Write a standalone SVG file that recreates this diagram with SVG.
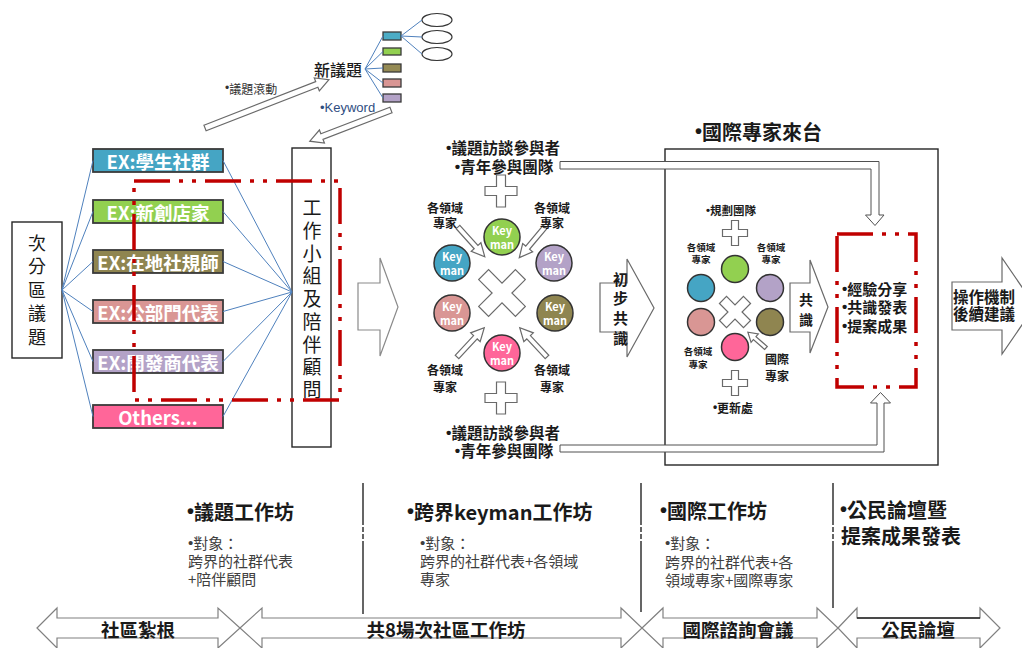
<svg xmlns="http://www.w3.org/2000/svg" width="1022" height="648" viewBox="0 0 1022 648">
<defs>
<style>
text{font-family:"Noto Sans CJK TC","Liberation Sans",sans-serif;fill:#1a1a1a;dominant-baseline:central}
.v{writing-mode:vertical-rl;text-orientation:upright}
.bu{font-family:"Liberation Sans",sans-serif}
.b{font-weight:bold}
.m{text-anchor:middle}
.box{stroke:#3a3a3a;stroke-width:1.8}
.wt{fill:#fff;font-weight:bold;font-size:18.5px;text-anchor:middle}
.bl{stroke:#4f81bd;stroke-width:1;fill:none}
.ho{fill:#fff;stroke:#6a6a6a;stroke-width:1.2}
.red{fill:none;stroke:#c00000;stroke-width:3.5;stroke-dasharray:36 9 4 9 4 9}
.frame{fill:#fff;stroke:#262626;stroke-width:1.4}
.cir{stroke:#333;stroke-width:1.5}
.km{fill:#fff;font-weight:bold;font-size:11px;text-anchor:middle}
.sub{fill:#404040;font-size:15px}
.h{font-weight:bold;font-size:20px}
.div{stroke:#333;stroke-width:1.5;stroke-dasharray:42 2 5 2 5 2 300}
.lab{font-weight:bold;font-size:12px;text-anchor:middle}
.labs{font-weight:bold;font-size:9.5px;text-anchor:middle}
</style>
<path id="plusM" d="M-4.5,-16H4.5V-4.5H16V4.5H4.5V16H-4.5V4.5H-16V-4.5H-4.5Z"/>
<path id="xM" d="M-7,-26H7V-7H26V7H7V26H-7V7H-26V-7H-7Z" transform="rotate(45)"/>
<path id="plusS" d="M-3.5,-12.5H3.5V-3.5H12.5V3.5H3.5V12.5H-3.5V3.5H-12.5V-3.5H-3.5Z"/>
<path id="xS" d="M-5,-17H5V-5H17V5H5V17H-5V5H-17V-5H-5Z" transform="rotate(45)"/>
<path id="sar" d="M0,-2.5H27V-6.5L40,0L27,6.5V2.5H0Z"/>
<path id="sar2" d="M0,-2H15V-5.5L24,0L15,5.5V2H0Z"/>
</defs>

<g id="new-topic">
<text x="338" y="69" class="m" style="font-size:16px;font-weight:500">新議題</text>
</g>
<g id="topic-colors">
<rect x="383" y="32" width="18" height="8" fill="#4bacc6" class="box" style="stroke-width:1.3"/>
<rect x="383" y="48" width="18" height="7" fill="#92d050" class="box" style="stroke-width:1.3"/>
<rect x="383" y="64" width="18" height="8" fill="#948a54" class="box" style="stroke-width:1.3"/>
<rect x="383" y="79" width="18" height="8" fill="#d99694" class="box" style="stroke-width:1.3"/>
<rect x="383" y="94" width="18" height="8" fill="#b3a2c7" class="box" style="stroke-width:1.3"/>
</g>
<g id="topic-ellipses">
<ellipse cx="437" cy="20" rx="15" ry="6.5" fill="#fff" stroke="#333" stroke-width="1.2"/>
<ellipse cx="437" cy="37" rx="15" ry="6.5" fill="#fff" stroke="#333" stroke-width="1.2"/>
<ellipse cx="437" cy="54" rx="15" ry="6.5" fill="#fff" stroke="#333" stroke-width="1.2"/>
</g>
<g id="topic-labels">
<text x="225" y="88" style="font-size:12px;fill:#333"><tspan class="bu">•</tspan>議題滾動</text>
<text x="320" y="107" style="font-size:13px;fill:#2e4d7f" class="bu">•Keyword</text>
</g>

<g id="sub-district">
<rect x="12" y="222" width="50" height="136" class="frame"/>
<text x="37" y="234" class="v" style="font-size:18px;letter-spacing:5.5px">次分區議題</text>
</g>
<g id="ex1"><rect x="93" y="149" width="130" height="23" fill="#45a5c4" class="box"/><text x="158" y="160.5" class="wt">EX:學生社群</text></g>
<g id="ex2"><rect x="93" y="200" width="130" height="23" fill="#92d050" class="box"/><text x="158" y="211.5" class="wt">EX:新創店家</text></g>
<g id="ex3"><rect x="93" y="250" width="130" height="23" fill="#8f8550" class="box"/><text x="158" y="261.5" class="wt">EX:在地社規師</text></g>
<g id="ex4"><rect x="93" y="300" width="130" height="23" fill="#d99694" class="box"/><text x="158" y="311.5" class="wt">EX:公部門代表</text></g>
<g id="ex5"><rect x="93" y="350" width="130" height="23" fill="#b3a2c7" class="box"/><text x="158" y="361.5" class="wt">EX:開發商代表</text></g>
<g id="others"><rect x="93" y="405" width="130" height="23" fill="#ff6699" class="box"/><text x="158" y="416.5" class="wt">Others...</text></g>

<g id="workgroup">
<rect x="292" y="148" width="39" height="299" class="frame"/>
<text x="312" y="198.5" class="v" style="font-size:19px;letter-spacing:3.75px">工作小組及陪伴顧問</text>
</g>

<g id="connectors">
<line x1="365" y1="69" x2="383" y2="36" class="bl"/>
<line x1="365" y1="69" x2="383" y2="51.5" class="bl"/>
<line x1="365" y1="69" x2="383" y2="68" class="bl"/>
<line x1="365" y1="69" x2="383" y2="83" class="bl"/>
<line x1="365" y1="69" x2="383" y2="98" class="bl"/>
<line x1="401" y1="36" x2="422" y2="20" class="bl"/>
<line x1="401" y1="36" x2="422" y2="37" class="bl"/>
<line x1="401" y1="36" x2="422" y2="54" class="bl"/>
<path class="ho" d="M0,-3H120V-7L133,0L120,7V3H0Z" transform="translate(205,128) rotate(-21.3)"/>
<path class="ho" d="M0,-3H74V-7L87,0L74,7V3H0Z" transform="translate(391,110) rotate(159)"/>
<line x1="62" y1="290" x2="93" y2="160.5" class="bl"/>
<line x1="62" y1="290" x2="93" y2="211.5" class="bl"/>
<line x1="62" y1="290" x2="93" y2="261.5" class="bl"/>
<line x1="62" y1="290" x2="93" y2="311.5" class="bl"/>
<line x1="62" y1="290" x2="93" y2="361.5" class="bl"/>
<line x1="62" y1="290" x2="93" y2="416.5" class="bl"/>
<line x1="223" y1="160.5" x2="292" y2="292" class="bl"/>
<line x1="223" y1="211.5" x2="292" y2="292" class="bl"/>
<line x1="223" y1="261.5" x2="292" y2="292" class="bl"/>
<line x1="223" y1="311.5" x2="292" y2="292" class="bl"/>
<line x1="223" y1="361.5" x2="292" y2="292" class="bl"/>
<line x1="223" y1="416.5" x2="292" y2="292" class="bl"/>
<polygon class="ho" points="358,283 380,283 380,258 398,307 380,356 380,330 358,330" style="stroke:#8a8a8a"/>
<polygon class="ho" points="600,283 627,283 627,259 654,308 627,357 627,332 600,332"/>
<polygon class="ho" points="952,282 1002,282 1002,258 1035,306 1002,354 1002,330 952,330"/>
</g>

<rect x="134" y="181" width="206" height="219" class="red"/>

<g id="keyman-workshop">
<text class="m b" style="font-size:15.5px"><tspan x="503" y="147"><tspan class="bu">•</tspan>議題訪談參與者</tspan><tspan x="504" y="166"><tspan class="bu">•</tspan>青年參與團隊</tspan></text>
<text class="m b" style="font-size:15.5px"><tspan x="503" y="432"><tspan class="bu">•</tspan>議題訪談參與者</tspan><tspan x="504" y="450"><tspan class="bu">•</tspan>青年參與團隊</tspan></text>
<use href="#plusM" class="ho" transform="translate(501,191)"/>
<use href="#plusM" class="ho" transform="translate(501,398)"/>
<use href="#xM" class="ho" transform="translate(502,293)"/>
<use href="#sar" class="ho" transform="translate(458,227) rotate(48)"/>
<use href="#sar" class="ho" transform="translate(545,227) rotate(130)"/>
<use href="#sar" class="ho" transform="translate(457,357) rotate(-47)"/>
<use href="#sar" class="ho" transform="translate(547,357) rotate(-133)"/>
<text class="lab"><tspan x="445" y="207">各領域</tspan><tspan x="445" y="222">專家</tspan></text>
<text class="lab"><tspan x="552" y="207">各領域</tspan><tspan x="552" y="222">專家</tspan></text>
<text class="lab"><tspan x="445" y="369">各領域</tspan><tspan x="445" y="386">專家</tspan></text>
<text class="lab"><tspan x="552" y="369">各領域</tspan><tspan x="552" y="386">專家</tspan></text>
<circle cx="502" cy="237" r="18" fill="#92d050" class="cir"/><text class="km"><tspan x="502" y="230">Key</tspan><tspan x="502" y="244">man</tspan></text>
<circle cx="452" cy="263" r="18" fill="#45a5c4" class="cir"/><text class="km"><tspan x="452" y="256">Key</tspan><tspan x="452" y="270">man</tspan></text>
<circle cx="554" cy="263" r="18" fill="#b3a2c7" class="cir"/><text class="km"><tspan x="554" y="256">Key</tspan><tspan x="554" y="270">man</tspan></text>
<circle cx="452" cy="313" r="18" fill="#d99694" class="cir"/><text class="km"><tspan x="452" y="306">Key</tspan><tspan x="452" y="320">man</tspan></text>
<circle cx="555" cy="313" r="18" fill="#8f8550" class="cir"/><text class="km"><tspan x="555" y="306">Key</tspan><tspan x="555" y="320">man</tspan></text>
<circle cx="502" cy="353" r="18" fill="#ff6699" class="cir"/><text class="km"><tspan x="502" y="346">Key</tspan><tspan x="502" y="360">man</tspan></text>
<text x="620.5" y="271.5" class="v b" style="font-size:15px;letter-spacing:4.8px">初步共識</text>
</g>

<g id="international">
<text x="695" y="131" class="b" style="font-size:20px"><tspan class="bu">•</tspan>國際專家來台</text>
<rect x="665" y="149" width="273" height="316" fill="none" stroke="#262626" stroke-width="1.4"/>
<text x="731" y="210" class="lab" style="font-size:11.5px"><tspan class="bu">•</tspan>規劃團隊</text>
<use href="#plusS" class="ho" transform="translate(735,233)"/>
<use href="#plusS" class="ho" transform="translate(735,383)"/>
<use href="#xS" class="ho" transform="translate(735,312)"/>
<use href="#sar2" class="ho" transform="translate(766,348) rotate(-139)"/>
<text class="labs"><tspan x="701" y="247">各領域</tspan><tspan x="701" y="259">專家</tspan></text>
<text class="labs"><tspan x="771" y="247">各領域</tspan><tspan x="771" y="259">專家</tspan></text>
<text class="labs"><tspan x="698" y="351">各領域</tspan><tspan x="698" y="364">專家</tspan></text>
<text class="lab"><tspan x="777" y="358">國際</tspan><tspan x="777" y="375">專家</tspan></text>
<circle cx="735" cy="269" r="13.5" fill="#92d050" class="cir"/>
<circle cx="701" cy="288" r="13.5" fill="#45a5c4" class="cir"/>
<circle cx="770" cy="288" r="13.5" fill="#b3a2c7" class="cir"/>
<circle cx="701" cy="322" r="13.5" fill="#d99694" class="cir"/>
<circle cx="770" cy="322" r="13.5" fill="#8f8550" class="cir"/>
<circle cx="735" cy="347" r="13.5" fill="#ff6699" class="cir"/>
<text x="733" y="407" class="lab" style="font-size:12px"><tspan class="bu">•</tspan>更新處</text>
<polygon class="ho" points="790,283 810,283 810,260 828,307 810,353 810,332 790,332"/>
<text x="806" y="293" class="v b" style="font-size:14px;letter-spacing:6px">共識</text>
</g>
<g id="results">
<rect x="837" y="234" width="79" height="153" class="red"/>
<text class="b" style="font-size:15px"><tspan x="842" y="288"><tspan class="bu">•</tspan>經驗分享</tspan><tspan x="842" y="306"><tspan class="bu">•</tspan>共識發表</tspan><tspan x="842" y="325"><tspan class="bu">•</tspan>提案成果</tspan></text>
</g>
<g id="follow-up">
<text class="b" style="font-size:15.5px"><tspan x="953" y="296">操作機制</tspan><tspan x="953" y="313">後續建議</tspan></text>
</g>

<g id="feedback-connectors">
<polygon class="ho" style="stroke:#505050;stroke-width:1" points="560,161.5 879,161.5 879,215 884,215 875,225.5 865.5,215 871,215 871,169 560,169"/>
<polygon class="ho" style="stroke:#505050;stroke-width:1" points="560,452 884,452 884,403 890.5,403 880.5,392.5 870.5,403 877,403 877,445 560,445"/>
</g>

<g id="dividers">
<line x1="363" y1="483" x2="363" y2="614" class="div"/>
<line x1="641" y1="483" x2="641" y2="612" class="div"/>
<line x1="833" y1="483" x2="833" y2="608" class="div"/>
</g>
<g id="phase1">
<text x="187" y="511" class="h"><tspan class="bu">•</tspan>議題工作坊</text>
<text class="sub"><tspan x="188" y="542"><tspan class="bu">•</tspan>對象：</tspan><tspan x="188" y="560">跨界的社群代表</tspan><tspan x="188" y="578">+陪伴顧問</tspan></text>
</g>
<g id="phase2">
<text x="407" y="511" class="h"><tspan class="bu">•</tspan>跨界keyman工作坊</text>
<text class="sub"><tspan x="420" y="542"><tspan class="bu">•</tspan>對象：</tspan><tspan x="420" y="560">跨界的社群代表+各領域</tspan><tspan x="420" y="578">專家</tspan></text>
</g>
<g id="phase3">
<text x="660" y="510" class="h"><tspan class="bu">•</tspan>國際工作坊</text>
<text class="sub"><tspan x="665" y="542"><tspan class="bu">•</tspan>對象：</tspan><tspan x="665" y="561">跨界的社群代表+各</tspan><tspan x="665" y="579">領域專家+國際專家</tspan></text>
</g>
<g id="phase4">
<text class="h"><tspan x="840" y="509"><tspan class="bu">•</tspan>公民論壇暨</tspan><tspan x="841" y="535">提案成果發表</tspan></text>
</g>

<g id="timeline">
<polygon class="ho" style="stroke:#808080" points="37,628 57,608 57,618 218,618 218,608 240,628 218,648 218,638 57,638 57,648"/>
<polygon class="ho" style="stroke:#808080" points="240,628 262,608 262,618 621,618 621,608 642,628 621,648 621,638 262,638 262,648"/>
<polygon class="ho" style="stroke:#808080" points="642,628 663,608 663,618 817,618 817,608 838,628 817,648 817,638 663,638 663,648"/>
<polygon class="ho" style="stroke:#808080" points="838,628 857,608 857,618 980,618 980,608 1000,628 980,648 980,638 857,638 857,648"/>
<line x1="857" y1="618" x2="980" y2="618" stroke="#222" stroke-width="1.5"/>
<text x="138" y="629" class="m b" style="font-size:18.5px">社區紮根</text>
<text x="446" y="629" class="m b" style="font-size:18.5px">共8場次社區工作坊</text>
<text x="738" y="629" class="m b" style="font-size:18.5px">國際諮詢會議</text>
<text x="918" y="629" class="m b" style="font-size:18.5px">公民論壇</text>
</g>
</svg>
